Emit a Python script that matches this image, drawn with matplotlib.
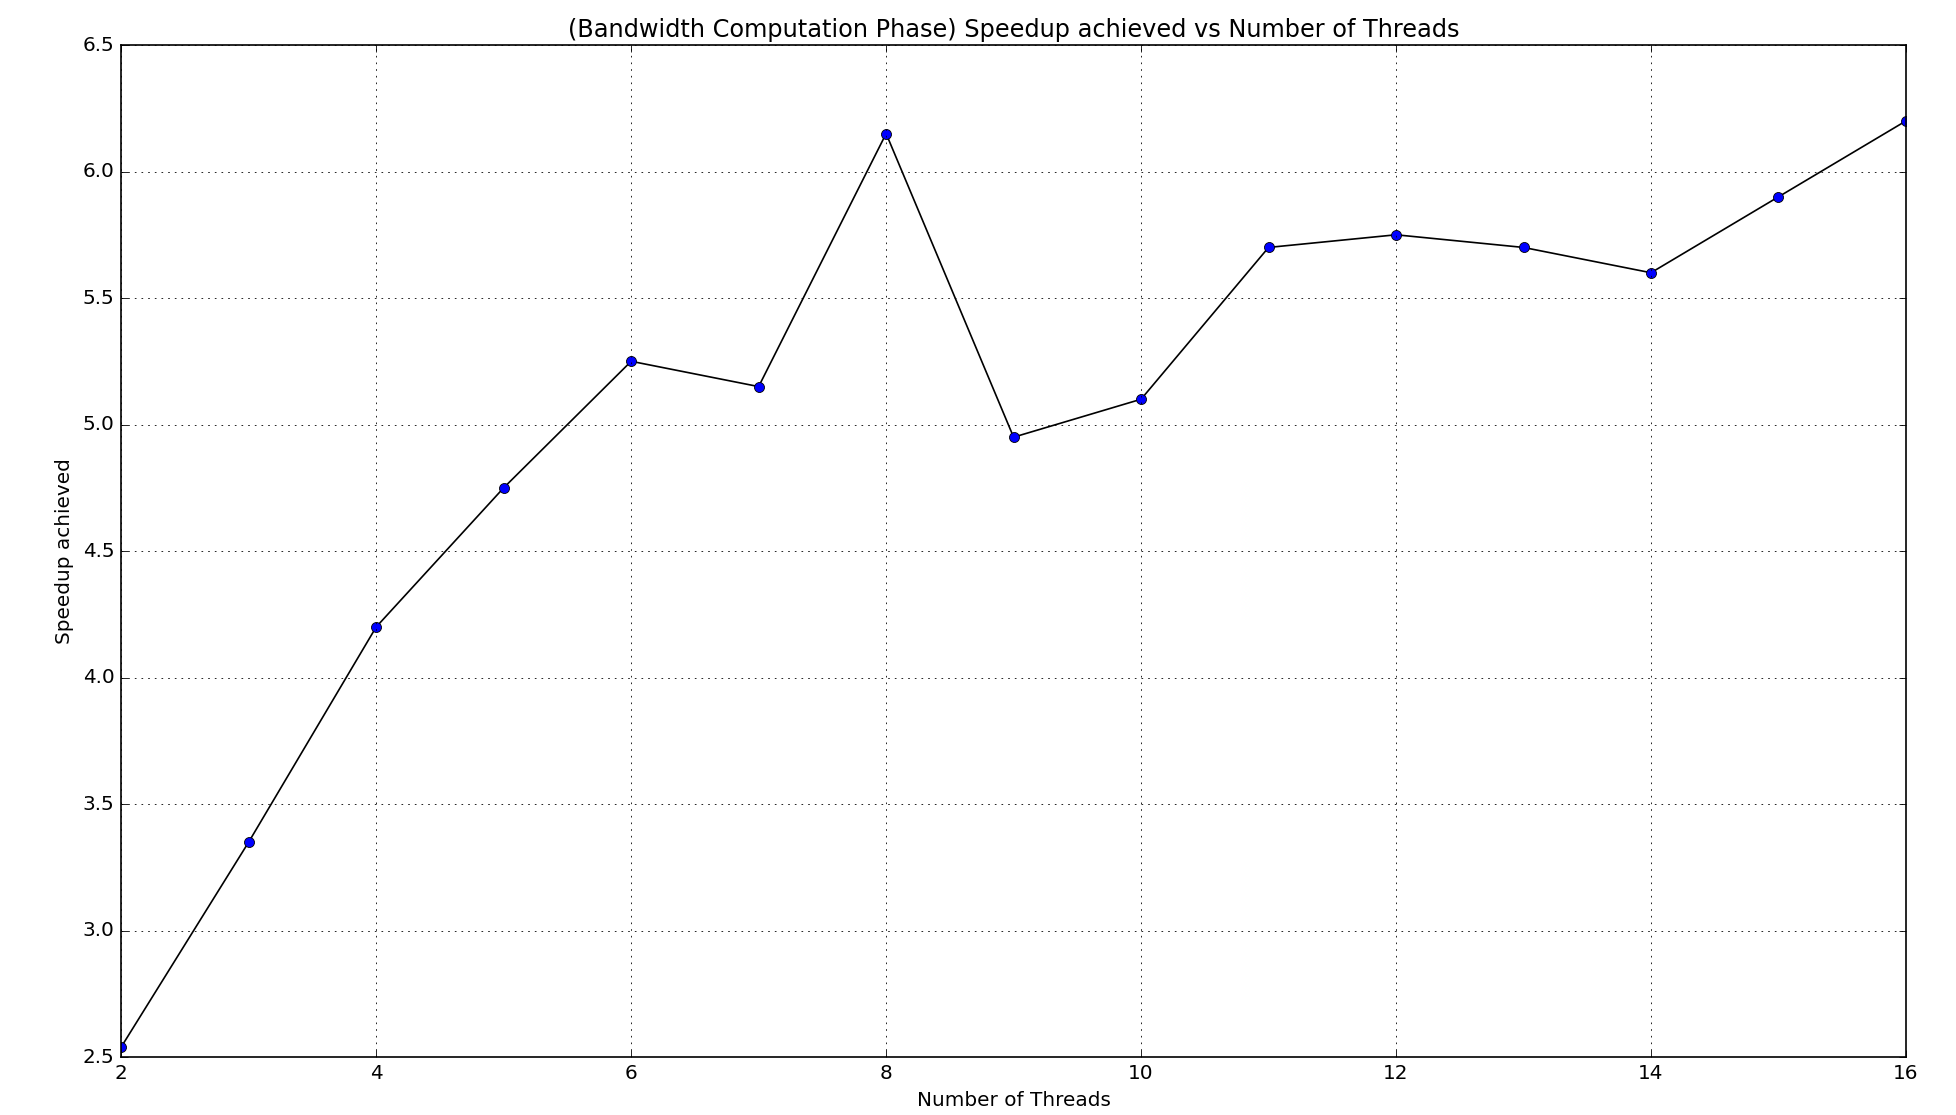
import matplotlib
matplotlib.use("Agg")
import matplotlib.pyplot as plt

threads = [2, 3, 4, 5, 6, 7, 8, 9, 10, 11, 12, 13, 14, 15, 16]
speedup = [2.54, 3.35, 4.2, 4.75, 5.25, 5.15, 6.15, 4.95, 5.1, 5.7, 5.75, 5.7, 5.6, 5.9, 6.2]

plt.style.use("classic")
fig = plt.figure(figsize=(16.3, 9.2917), dpi=120)
fig.subplots_adjust(left=0.062, right=0.9744, top=0.9596, bottom=0.052)

plt.plot(threads, speedup, "-o", color="k", markerfacecolor="b", markeredgecolor="k")
plt.xlim(2, 16)
plt.ylim(2.5, 6.5)
plt.grid(True)
plt.xlabel("Number of Threads")
plt.ylabel("Speedup achieved")
plt.title("(Bandwidth Computation Phase) Speedup achieved vs Number of Threads")

plt.savefig("out.png", dpi=120, facecolor="white")
